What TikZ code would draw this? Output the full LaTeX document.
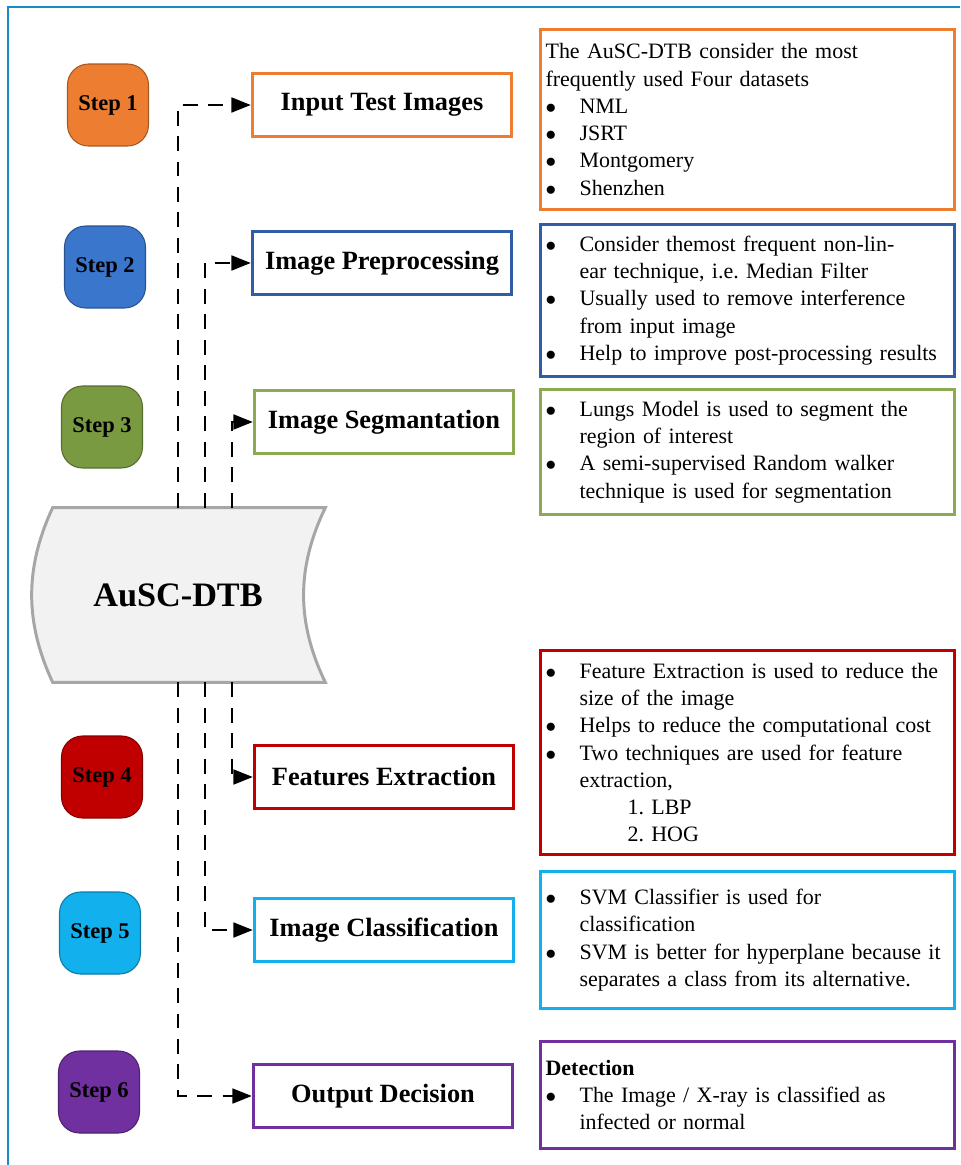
\documentclass[tikz,border=0pt]{standalone}
\usepackage{fontspec}
\setmainfont{Liberation Serif}
\usepackage{xcolor}
\usepackage{tikz}
\usetikzlibrary{positioning,arrows.meta,backgrounds}

\definecolor{frameblue}{HTML}{1B8AC9}
\definecolor{orangeA}{HTML}{ED7D31}
\definecolor{blueB}{HTML}{3A76CC}
\definecolor{blueBdark}{HTML}{2F5DA6}
\definecolor{greenC}{HTML}{7A9A41}
\definecolor{greenCl}{HTML}{8CAA52}
\definecolor{redD}{HTML}{C00000}
\definecolor{cyanE}{HTML}{12B0EC}
\definecolor{purpleF}{HTML}{7030A0}
\definecolor{hubgray}{HTML}{A6A6A6}
\definecolor{hubfill}{HTML}{F2F2F2}

% bullet line with hanging indent
\newcommand{\bfirst}[1]{\noindent\hangindent=0.68cm\hangafter=1\makebox[0.68cm][l]{$\bullet$}#1}
\newcommand{\bitem}[1]{\par\bfirst{#1}}

\begin{document}
\begin{tikzpicture}[x=0.02cm, y=-0.02cm,
  stepbadge/.style={draw=#1!70!black, fill=#1, rounded corners=0.42cm, line width=0.6pt,
    minimum width=1.62cm, minimum height=1.64cm, font=\fontsize{12.8}{14}\selectfont\bfseries},
  procbox/.style={draw=#1, line width=2pt, fill=white, minimum width=5.18cm, minimum height=1.26cm,
    font=\fontsize{15}{17}\selectfont\bfseries},
  infobox/.style={draw=#1, line width=1.8pt, anchor=north west, text width=8.08cm, inner xsep=0.1cm,
    align=left, font=\fontsize{12.5}{15.5}\selectfont},
  link/.style={line width=1.1pt, dash pattern=on 8.5pt off 6pt, -{Triangle[length=11pt,width=8.5pt]}}]
\useasboundingbox (0,0) rectangle (960,1165);

% frame
\draw[frameblue, line width=1.2pt] (8,1165) -- (8,7) -- (960,7);

% steps
\node[stepbadge=orangeA] (step1) at (108,105) {Step 1};
\node[stepbadge=blueB] (step2) at (105,267) {Step 2};
\node[stepbadge=greenC] (step3) at (102,427) {Step 3};
\node[stepbadge=redD] (step4) at (102,777) {Step 4};
\node[stepbadge=cyanE] (step5) at (100,933) {Step 5};
\node[stepbadge=purpleF] (step6) at (99,1092) {Step 6};

% process boxes
\node[procbox=orangeA] (input) at (382,105) {Input Test Images};
\node[procbox=blueBdark] (prep) at (382,263) {Image Preprocessing};
\node[procbox=greenCl] (seg) at (384,422) {Image Segmantation};
\node[procbox=redD] (feat) at (384,777) {Features Extraction};
\node[procbox=cyanE] (cls) at (384,930) {Image Classification};
\node[procbox=purpleF] (out) at (383,1096) {Output Decision};

% AuSC-DTB store
\node[minimum width=5.44cm, minimum height=3.48cm, font=\fontsize{19.5}{22}\selectfont\bfseries]
  (hub) at (189,595) {AuSC-DTB\kern0.44cm};
\begin{scope}[on background layer]
\draw[hubgray, fill=hubfill, line width=1.7pt] (hub.north west) -- (hub.north east)
  .. controls +(-29,60) and +(-29,-60) .. (hub.south east) -- (hub.south west)
  .. controls +(-28,-60) and +(-28,60) .. (hub.north west) -- cycle;
\end{scope}

% dashed links
\draw[link] ([xshift=2.5cm]hub.north west) |- (input.west);
\draw[link] ([xshift=3.04cm]hub.north west) |- (prep.west);
\draw[link] ([xshift=3.58cm]hub.north west) |- (seg.west);
\draw[link] ([xshift=3.58cm]hub.south west) |- (feat.west);
\draw[link] ([xshift=3.04cm]hub.south west) |- (cls.west);
\draw[link] ([xshift=2.5cm]hub.south west) |- (out.west);

% descriptions
\node[infobox=orangeA, minimum height=3.6cm] (info1) at (539,28) {The AuSC-DTB consider the most\newline frequently used Four datasets
  \bitem{NML}
  \bitem{JSRT}
  \bitem{Montgomery}
  \bitem{Shenzhen}\par};
\node[infobox=blueBdark, minimum height=3.04cm] (info2) at (539,223) {%
  \bfirst{Consider themost frequent non-lin-\newline ear technique, i.e.\ Median Filter}
  \bitem{Usually used to remove interference\newline from input image}
  \bitem{Help to improve post-processing results}\par};
\node[infobox=greenCl, minimum height=2.5cm] (info3) at (539,388) {%
  \bfirst{Lungs Model is used to segment the\newline region of interest}
  \bitem{A semi-supervised Random walker\newline technique is used for segmentation}\par};
\node[infobox=redD, minimum height=4.08cm] (info4) at (539,649) {%
  \bfirst{Feature Extraction is used to reduce the\newline size of the image}
  \bitem{Helps to reduce the computational cost}
  \bitem{Two techniques are used for feature\newline extraction,}
  \par\noindent\hspace*{1.64cm}1.\ LBP
  \par\noindent\hspace*{1.64cm}2.\ HOG\par};
\node[infobox=cyanE, minimum height=2.74cm] (info5) at (539,870) {%
  \bfirst{SVM Classifier is used for\newline classification}
  \bitem{SVM is better for hyperplane because it\newline separates a class from its alternative.}\par};
\node[infobox=purpleF, minimum height=2.14cm] (info6) at (539,1040) {%
  \textbf{Detection}
  \bitem{The Image / X-ray is classified as\newline infected or normal}\par};
\end{tikzpicture}
\end{document}
